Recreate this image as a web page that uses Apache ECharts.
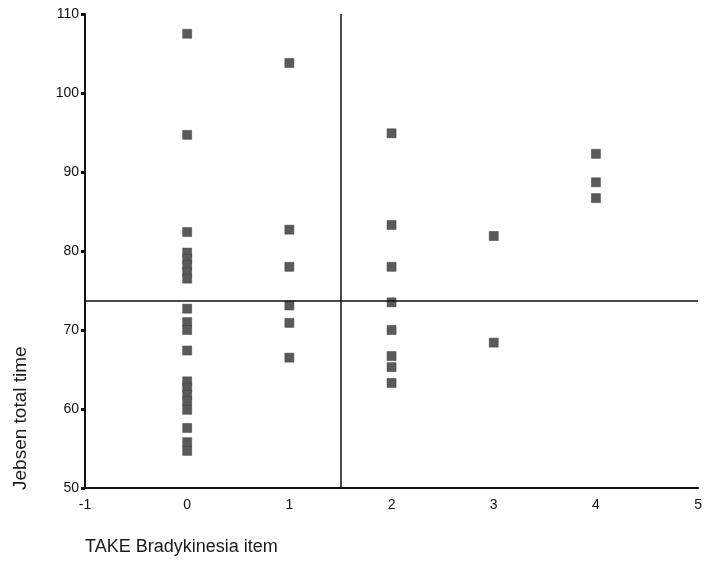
<!DOCTYPE html>
<html>
<head>
<meta charset="utf-8">
<title>Jebsen total time vs TAKE Bradykinesia item</title>
<script src="https://cdn.jsdelivr.net/npm/echarts@6/dist/echarts.min.js"></script>
<style>
  html, body { margin: 0; padding: 0; background: #ffffff; }
  #chart { width: 705px; height: 574px; }
</style>
</head>
<body>
<div id="chart"></div>
<script>
// Jebsen total time (s) for each TAKE bradykinesia item score
const itemScores = [0, 1, 2, 3, 4];
const timesScore0 = [107.5, 94.7, 82.4, 79.8, 79.0, 78.2, 77.3, 76.5, 72.7, 71.0, 70.0, 67.4,
                     63.5, 62.7, 61.8, 61.0, 59.9, 57.6, 55.8, 54.7];
const timesScore1 = [103.8, 82.7, 78.0, 73.1, 70.9, 66.5];
const timesScore2 = [94.9, 83.3, 78.0, 73.5, 70.0, 66.7, 65.3, 63.3];
const timesScore3 = [81.9, 68.4];
const timesScore4 = [92.3, 88.7, 86.7];

// cut-off lines
const itemCutoff = 1.5;
const timeCutoff = 73.7;

// axis ranges
const xMin = -1, xMax = 5, xStep = 1;
const yMin = 50, yMax = 110, yStep = 10;

const groups = [timesScore0, timesScore1, timesScore2, timesScore3, timesScore4];
const points = [];
groups.forEach((times, i) => {
  times.forEach(t => points.push([itemScores[i], t]));
});

const chart = echarts.init(document.getElementById('chart'), null, { renderer: 'canvas' });

const labelFont = 'Liberation Sans, Arial, Helvetica, sans-serif';

chart.setOption({
  animation: false,
  backgroundColor: '#ffffff',
  grid: { left: 85, right: 5, top: 14, bottom: 86, containLabel: false },
  xAxis: {
    type: 'value',
    min: xMin, max: xMax, interval: xStep,
    axisLine: { show: true, onZero: false, lineStyle: { color: '#111', width: 2 } },
    axisTick: { show: false },
    splitLine: { show: false },
    axisLabel: { color: '#111', fontSize: 14, fontFamily: labelFont, margin: 10 }
  },
  yAxis: {
    type: 'value',
    min: yMin, max: yMax, interval: yStep,
    axisLine: { show: true, onZero: false, lineStyle: { color: '#111', width: 2 } },
    axisTick: { show: true, length: 4, lineStyle: { color: '#111', width: 3 } },
    splitLine: { show: false },
    axisLabel: { color: '#111', fontSize: 14, fontFamily: labelFont, margin: 6 }
  },
  series: [{
    type: 'scatter',
    data: points,
    symbol: 'rect',
    symbolSize: 9,
    itemStyle: { color: '#5a5a5a', borderColor: '#3a3a3a', borderWidth: 0.5, opacity: 1 },
    markLine: {
      silent: true,
      symbol: ['none', 'none'],
      label: { show: false },
      lineStyle: { color: '#111', width: 1.5, type: 'solid' },
      data: [
        { xAxis: itemCutoff },
        { yAxis: timeCutoff }
      ]
    }
  }],
  graphic: [
    {
      type: 'text',
      left: 85, top: 538,
      style: { text: 'TAKE Bradykinesia item', fill: '#1a1a1a', fontSize: 18, fontFamily: labelFont }
    },
    {
      type: 'text',
      x: 11, y: 490,
      rotation: Math.PI / 2,
      style: {
        text: 'Jebsen total time', fill: '#1a1a1a', fontSize: 19, fontFamily: labelFont,
        align: 'left', verticalAlign: 'top'
      }
    }
  ]
});
</script>
</body>
</html>
